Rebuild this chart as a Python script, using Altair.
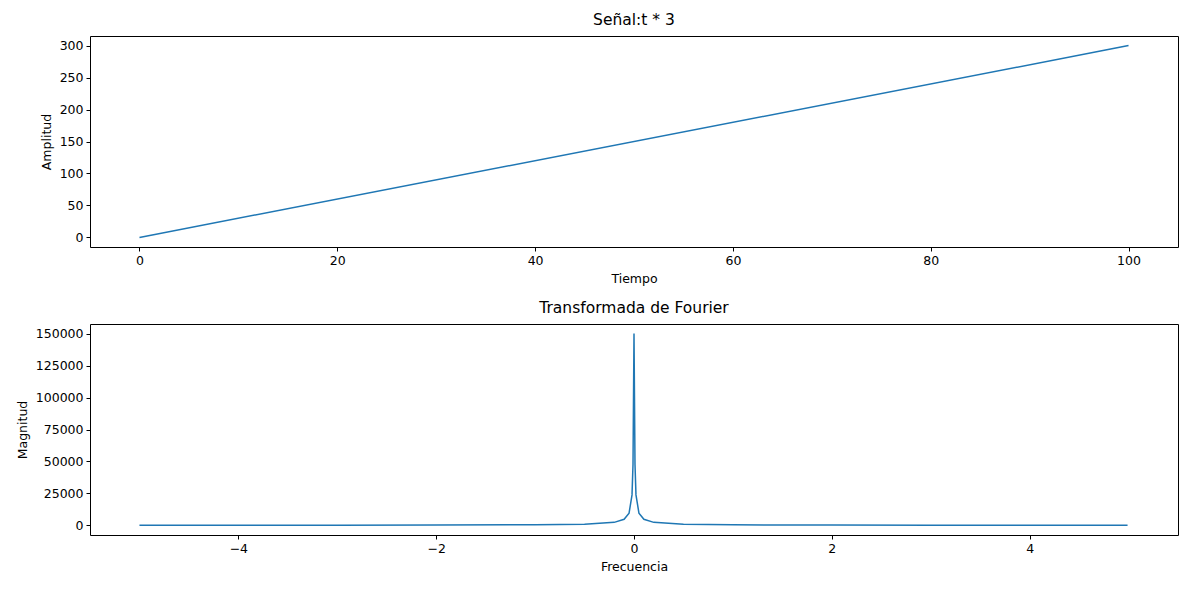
import altair as alt
import pandas as pd

# top panel: signal t * 3
tiempo = [0, 100]
amplitud = [0, 300]

# bottom panel: FFT magnitude
frecuencia = [-5, -4, -3, -2, -1, -0.5, -0.2, -0.1, -0.05, -0.02, -0.01, 0,
              0.01, 0.02, 0.05, 0.1, 0.2, 0.5, 1, 2, 3, 4, 4.99]
magnitud = [150, 158, 185, 255, 485, 958, 2389, 4776, 9549, 23874, 47747, 150000,
            47747, 23874, 9549, 4776, 2389, 958, 485, 255, 185, 158, 150]

df1 = pd.DataFrame({"t": tiempo, "a": amplitud})
df2 = pd.DataFrame({"f": frecuencia, "m": magnitud})

blue = "#1f77b4"
font = "DejaVu Sans"

top = alt.Chart(df1, title="Señal:t * 3").mark_line(color=blue, strokeWidth=1.5).encode(
    x=alt.X("t:Q", title="Tiempo", scale=alt.Scale(domain=[-5, 105], nice=False, zero=False),
            axis=alt.Axis(values=[0, 20, 40, 60, 80, 100])),
    y=alt.Y("a:Q", title="Amplitud", scale=alt.Scale(domain=[-15, 315], nice=False),
            axis=alt.Axis(values=[0, 50, 100, 150, 200, 250, 300])),
).properties(width=1088, height=211)

bottom = alt.Chart(df2, title="Transformada de Fourier").mark_line(color=blue, strokeWidth=1.5).encode(
    x=alt.X("f:Q", title="Frecuencia", scale=alt.Scale(domain=[-5.5, 5.5], nice=False, zero=False),
            axis=alt.Axis(values=[-4, -2, 0, 2, 4], format="d")),
    y=alt.Y("m:Q", title="Magnitud", scale=alt.Scale(domain=[-7500, 157500], nice=False),
            axis=alt.Axis(values=[0, 25000, 50000, 75000, 100000, 125000, 150000], format="d")),
).properties(width=1088, height=211)

chart = alt.vconcat(top, bottom, spacing=14).properties(
    padding={"left": 7, "top": 4, "right": 0, "bottom": 0}
).configure_view(stroke="black", strokeWidth=1).configure_axis(
    grid=False, domain=False, tickColor="black", tickSize=4,
    labelFont=font, labelFontSize=12.5, labelColor="black",
    titleFont=font, titleFontSize=12.5, titleFontWeight="normal", titleColor="black",
    labelPadding=3, titlePadding=6,
).configure_title(font=font, fontSize=15.5, fontWeight="normal", color="black", offset=8)

chart.save("out.html", embed_options={"renderer": "svg", "actions": False})
